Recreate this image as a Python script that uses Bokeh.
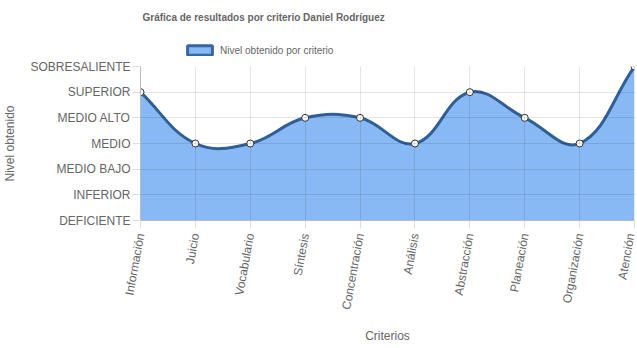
import numpy as np
from bokeh.plotting import figure
from bokeh.layouts import column
from bokeh.models import (Range1d, FixedTicker, Legend, LegendItem, ColumnDataSource, Title)
from bokeh.embed import file_html
from bokeh.resources import INLINE

# ---------------- data ----------------
categories = ["Información", "Juicio", "Vocabulario", "Síntesis", "Concentración",
              "Análisis", "Abstracción", "Planeación", "Organización", "Atención"]
levels = ["DEFICIENTE", "INFERIOR", "MEDIO BAJO", "MEDIO", "MEDIO ALTO",
          "SUPERIOR", "SOBRESALIENTE"]
values = [5, 3, 3, 4, 4, 3, 5, 4, 3, 6]
series_name = "Nivel obtenido por criterio"
title_text = "Gráfica de resultados por criterio Daniel Rodríguez"

# ---------------- style ----------------
W, H = 637, 348
TOP_H = 58
L, R, T, B = 138, 3, 8, 128
MAIN_H = H - TOP_H
FW, FH = W - L - R, MAIN_H - T - B
FILL = "#88b9f5"
LINE = "#2f5f95"
GREY = "#666666"
FONT = "Liberation Sans"

xs = np.arange(len(categories), dtype=float)
ys = np.array(values, dtype=float)

# Chart.js-like cubic spline (tension 0.4) computed in pixel-scaled space
sx = FW / (len(categories) - 1)
sy = FH / (len(levels) - 1)
tension = 0.4
n = len(xs)
prev_cp = np.zeros((n, 2))
next_cp = np.zeros((n, 2))
for i in range(n):
    cur = np.array([xs[i], ys[i]])
    prv = np.array([xs[i - 1], ys[i - 1]]) if i > 0 else cur
    nxt = np.array([xs[i + 1], ys[i + 1]]) if i < n - 1 else cur
    d01 = np.hypot((cur[0] - prv[0]) * sx, (cur[1] - prv[1]) * sy)
    d12 = np.hypot((nxt[0] - cur[0]) * sx, (nxt[1] - cur[1]) * sy)
    tot = d01 + d12
    s01 = d01 / tot if tot else 0
    s12 = d12 / tot if tot else 0
    prev_cp[i] = cur - tension * s01 * (nxt - prv)
    next_cp[i] = cur + tension * s12 * (nxt - prv)
prev_cp[:, 1] = np.clip(prev_cp[:, 1], 0, 6)
next_cp[:, 1] = np.clip(next_cp[:, 1], 0, 6)

bez = ColumnDataSource(dict(
    x0=xs[:-1], y0=ys[:-1], x1=xs[1:], y1=ys[1:],
    cx0=next_cp[:-1, 0], cy0=next_cp[:-1, 1],
    cx1=prev_cp[1:, 0], cy1=prev_cp[1:, 1]))

# sampled curve for the filled area
t = np.linspace(0, 1, 30)[:, None]
cx, cy = [], []
for i in range(n - 1):
    P0 = np.array([xs[i], ys[i]]); P3 = np.array([xs[i + 1], ys[i + 1]])
    P1 = next_cp[i]; P2 = prev_cp[i + 1]
    pts = ((1 - t) ** 3) * P0 + 3 * ((1 - t) ** 2) * t * P1 + 3 * (1 - t) * t ** 2 * P2 + t ** 3 * P3
    cx.extend(pts[:, 0]); cy.extend(pts[:, 1])

# ---------------- header figure: title + legend ----------------
top = figure(width=W, height=TOP_H, output_backend="svg", toolbar_location=None,
             x_range=Range1d(0, 1), y_range=Range1d(0, 1),
             min_border_left=0, min_border_right=0, min_border_top=0, min_border_bottom=0)
top.axis.visible = False
top.grid.visible = False
top.outline_line_color = None
top.title = None
top.add_layout(Title(text=title_text, align="left", offset=2, text_font=FONT,
                     text_font_size="10px", text_color=GREY, text_font_style="bold",
                     standoff=0), "above")
# blank spacer above the title to push it down
top.add_layout(Title(text=" ", text_font_size="1px", standoff=6), "above")

proxy = top.quad(left=[0], right=[1], top=[1], bottom=[0], fill_color=FILL,
                 line_color="#3767a3", line_width=3, visible=False)
legend = Legend(items=[LegendItem(label=series_name, renderers=[proxy])],
                location=(44, 2), orientation="horizontal",
                glyph_width=31, glyph_height=12, label_height=12,
                label_text_font=FONT, label_text_font_size="10px", label_text_color=GREY,
                label_text_baseline="middle",
                padding=0, margin=0, border_line_color=None, background_fill_alpha=0,
                label_standoff=5, inactive_fill_alpha=0)
top.add_layout(legend, "center")

# ---------------- main figure ----------------
p = figure(width=W, height=MAIN_H, output_backend="svg", toolbar_location=None,
           x_range=Range1d(0, len(categories) - 1), y_range=Range1d(0, len(levels) - 1),
           min_border_left=L, min_border_right=R, min_border_top=T, min_border_bottom=B)
p.outline_line_color = None

for ax in (p.xaxis[0], p.yaxis[0]):
    ax.major_label_text_font = FONT
    ax.major_label_text_font_size = "12px"
    ax.major_label_text_color = GREY
    ax.axis_label_text_font = FONT
    ax.axis_label_text_font_size = "12px"
    ax.axis_label_text_color = GREY
    ax.axis_label_text_font_style = "normal"
    ax.axis_line_color = "#bbbbbb"
    ax.major_tick_line_color = "#dddddd"
    ax.major_tick_out = 8
    ax.major_tick_in = 0
    ax.minor_tick_line_color = None

p.xaxis.ticker = FixedTicker(ticks=list(range(len(categories))))
p.xaxis.major_label_overrides = {i: c for i, c in enumerate(categories)}
p.xaxis.major_label_orientation = 1.39
p.xaxis.axis_label = "Criterios"
p.xaxis.axis_label_standoff = 14

p.yaxis.ticker = FixedTicker(ticks=list(range(len(levels))))
p.yaxis.major_label_overrides = {i: s for i, s in enumerate(levels)}
p.yaxis.axis_label = "Nivel obtenido"
p.yaxis.axis_label_standoff = 10
p.yaxis.major_label_standoff = 2

p.grid.grid_line_color = "black"
p.grid.grid_line_alpha = 0.1
p.grid.level = "overlay"
p.xgrid.ticker = FixedTicker(ticks=list(range(len(categories))))
p.ygrid.ticker = FixedTicker(ticks=list(range(len(levels))))

p.varea(x=cx, y1=0, y2=cy, fill_color=FILL, fill_alpha=1.0)
p.bezier(x0="x0", y0="y0", x1="x1", y1="y1", cx0="cx0", cy0="cy0", cx1="cx1", cy1="cy1",
         source=bez, line_color=LINE, line_width=3)
p.scatter(x=xs, y=ys, size=7, fill_color="white", line_color="#333333", line_width=1)

layout = column(top, p, spacing=0)
open("out.html", "w").write(file_html(layout, INLINE))
